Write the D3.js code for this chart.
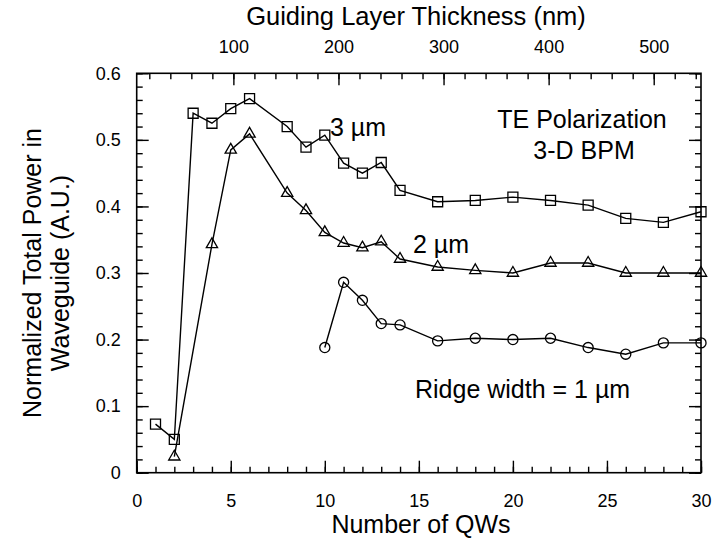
<!DOCTYPE html>
<html>
<head>
<meta charset="utf-8">
<script src="https://cdn.jsdelivr.net/npm/d3@7"></script>
<style>
  html, body { margin: 0; padding: 0; background: #fff; }
  svg { display: block; font-family: "Liberation Sans", Arial, Helvetica, sans-serif; }
</style>
</head>
<body>
<svg id="chart" width="712" height="544"></svg>
<script>
// ---- data ----
const nSquare = [1, 2, 3, 4, 5, 6, 8, 9, 10, 11, 12, 13, 14, 16, 18, 20, 22, 24, 26, 28, 30];
const p3um    = [0.073, 0.050, 0.540, 0.525, 0.547, 0.562, 0.520, 0.489, 0.507, 0.465, 0.450, 0.466, 0.424, 0.407, 0.409, 0.414, 0.409, 0.402, 0.382, 0.376, 0.392];
const nTri    = [2, 4, 5, 6, 8, 9, 10, 11, 12, 13, 14, 16, 18, 20, 22, 24, 26, 28, 30];
const p2um    = [0.024, 0.343, 0.485, 0.509, 0.420, 0.394, 0.361, 0.345, 0.338, 0.347, 0.321, 0.309, 0.304, 0.300, 0.315, 0.315, 0.300, 0.300, 0.300];
const nCirc   = [10, 11, 12, 13, 14, 16, 18, 20, 22, 24, 26, 28, 30];
const p1um    = [0.188, 0.286, 0.259, 0.224, 0.222, 0.198, 0.202, 0.200, 0.202, 0.188, 0.178, 0.195, 0.195];

const xTicks = [0, 5, 10, 15, 20, 25, 30];
const yTicks = [0, 0.1, 0.2, 0.3, 0.4, 0.5, 0.6];
const topTicks = [100, 200, 300, 400, 500];
const thicknessOffset = 8;     // nm at 0 QWs
const thicknessPerQW = 17.9;   // nm per QW

// ---- layout ----
const L = 136.7, R = 701, T = 73.3, B = 472.7;
const svg = d3.select("#chart");

const x = d3.scaleLinear().domain([0, 30]).range([L, R]);
const y = d3.scaleLinear().domain([0, 0.6]).range([B, T]);
const xTop = d3.scaleLinear()
  .domain([thicknessOffset, thicknessOffset + thicknessPerQW * 30])
  .range([L, R]);

const MAJ = 12, MIN = 6, FS = 18;

function styleAxis(g) {
  g.selectAll(".domain").remove();
  g.selectAll(".tick line").attr("stroke", "#000").attr("stroke-width", 1.4);
  g.selectAll(".tick text").attr("font-size", FS).attr("fill", "#000")
    .attr("font-family", "Liberation Sans, Arial, sans-serif");
}

// bottom axis
svg.append("g").attr("transform", `translate(0,${B})`)
  .call(d3.axisBottom(x).tickValues(d3.range(0, 31, 1)).tickSize(-MIN).tickFormat(""))
  .call(styleAxis);
svg.append("g").attr("transform", `translate(0,${B})`)
  .call(d3.axisBottom(x).tickValues(xTicks).tickSize(-MAJ).tickPadding(22).tickFormat(d3.format("d")))
  .call(styleAxis);

// top axis (guiding layer thickness)
const topMinor = d3.range(20, xTop.domain()[1], 20);
svg.append("g").attr("transform", `translate(0,${T})`)
  .call(d3.axisTop(xTop).tickValues(topMinor).tickSize(-MIN).tickFormat(""))
  .call(styleAxis);
svg.append("g").attr("transform", `translate(0,${T})`)
  .call(d3.axisTop(xTop).tickValues(topTicks).tickSize(-MAJ).tickPadding(20).tickFormat(d3.format("d")))
  .call(styleAxis);

// left axis
const yMinor = d3.range(0, 0.6001, 0.02);
svg.append("g").attr("transform", `translate(${L},0)`)
  .call(d3.axisLeft(y).tickValues(yMinor).tickSize(-MIN).tickFormat(""))
  .call(styleAxis);
svg.append("g").attr("transform", `translate(${L},0)`)
  .call(d3.axisLeft(y).tickValues(yTicks).tickSize(-MAJ).tickPadding(16).tickFormat(d => d === 0 ? "0" : d3.format(".1f")(d)))
  .call(styleAxis);

// right axis
svg.append("g").attr("transform", `translate(${R},0)`)
  .call(d3.axisRight(y).tickValues(yMinor).tickSize(-MIN).tickFormat(""))
  .call(styleAxis);
svg.append("g").attr("transform", `translate(${R},0)`)
  .call(d3.axisRight(y).tickValues(yTicks).tickSize(-MAJ).tickFormat(""))
  .call(styleAxis);

// frame
svg.append("rect").attr("x", L).attr("y", T).attr("width", R - L).attr("height", B - T)
  .attr("fill", "none").attr("stroke", "#000").attr("stroke-width", 1.6);

// series
const series = [
  { n: nSquare, v: p3um, sym: d3.symbolSquare, size: 100 },
  { n: nTri, v: p2um, sym: d3.symbolTriangle, size: 55 },
  { n: nCirc, v: p1um, sym: d3.symbolCircle, size: 80 }
];
const line = d3.line().x(d => x(d[0])).y(d => y(d[1]));

const linesG = svg.append("g");
const annG = svg.append("g");
const markG = svg.append("g");

series.forEach(s => {
  const pts = s.n.map((n, i) => [n, s.v[i]]);
  linesG.append("path").datum(pts).attr("d", line)
    .attr("fill", "none").attr("stroke", "#000").attr("stroke-width", 1.4);
  markG.selectAll(null).data(pts).enter().append("path")
    .attr("transform", d => `translate(${x(d[0])},${y(d[1])})`)
    .attr("d", d3.symbol().type(s.sym).size(s.size))
    .attr("fill", "none").attr("stroke", "#000").attr("stroke-width", 1.3);
});

function ann(txt, px, py, anchor) {
  annG.append("text").attr("x", px).attr("y", py).attr("text-anchor", anchor || "start")
    .attr("font-size", 25).attr("fill", "#000")
    .attr("stroke", "#fff").attr("stroke-width", 5).attr("paint-order", "stroke")
    .text(txt);
}
ann("3 \u00b5m", 330, 136);
ann("TE Polarization", 582, 128, "middle");
ann("3-D BPM", 584, 159, "middle");
ann("2 \u00b5m", 413, 253);
ann("Ridge width = 1 \u00b5m", 415, 398);

// axis titles
svg.append("text").attr("x", 416).attr("y", 25).attr("text-anchor", "middle")
  .attr("font-size", 25.5).text("Guiding Layer Thickness (nm)");
svg.append("text").attr("x", 421).attr("y", 533).attr("text-anchor", "middle")
  .attr("font-size", 25).text("Number of QWs");
const yt = svg.append("text").attr("transform", `translate(0,${(T + B) / 2}) rotate(-90)`)
  .attr("text-anchor", "middle").attr("font-size", 25);
yt.append("tspan").attr("x", 0).attr("y", 41).text("Normalized Total Power in");
yt.append("tspan").attr("x", 0).attr("y", 69).text("Waveguide (A.U.)");
</script>
</body>
</html>
